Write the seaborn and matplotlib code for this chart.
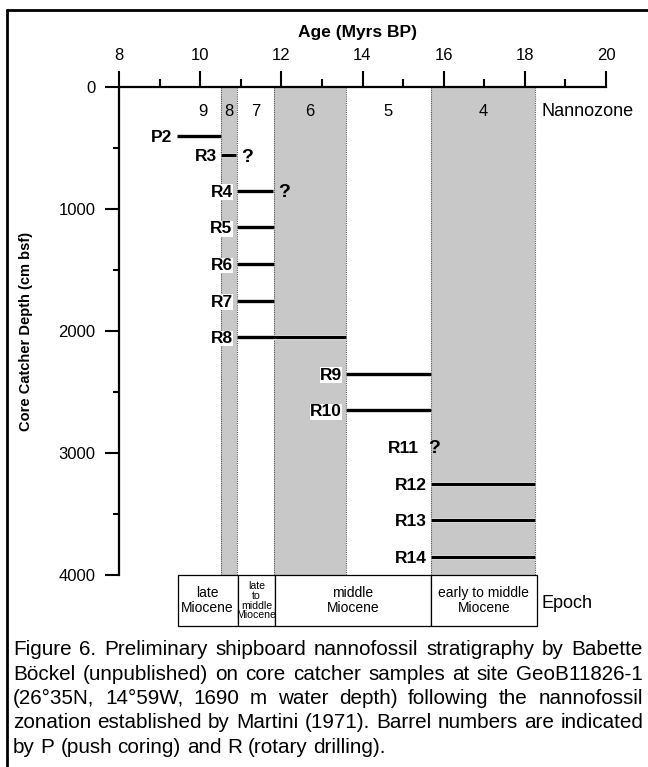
import matplotlib
matplotlib.use("Agg")
import matplotlib.pyplot as plt
import matplotlib.patheffects as pe
from matplotlib.ticker import MultipleLocator
import pandas as pd
import seaborn as sns

# nannozones (Martini 1971), age in Myr BP
zone_names = ["9", "8", "7", "6", "5", "4"]
zone_left = [9.6, 10.52, 10.9, 11.82, 13.6, 15.68]
zone_right = [10.52, 10.9, 11.82, 13.6, 15.68, 18.25]
zone_shaded = [False, True, False, True, False, True]

# core catcher samples
sample_names = ["P2", "R3", "R4", "R5", "R6", "R7", "R8",
                "R9", "R10", "R11", "R12", "R13", "R14"]
sample_depth = [400, 560, 850, 1150, 1450, 1750, 2050,
                2350, 2650, 2950, 3250, 3550, 3850]
sample_young = [9.42, 10.52, 10.9, 10.9, 10.9, 10.9, 10.9,
                13.6, 13.6, 15.5, 15.68, 15.68, 15.68]
sample_old = [10.52, 10.88, 11.8, 11.82, 11.82, 11.82, 13.6,
              15.68, 15.68, 15.5, 18.25, 18.25, 18.25]
sample_query = [False, True, True, False, False, False, False,
                False, False, True, False, False, False]

# epochs
epoch_names = ["late\nMiocene", "late\nto\nmiddle\nMiocene",
               "middle\nMiocene", "early to middle\nMiocene"]
epoch_left = [9.45, 10.92, 11.85, 15.68]
epoch_right = [10.92, 11.85, 15.68, 18.3]
epoch_fontsize = [10, 7.6, 10, 10]

caption = [
    "Figure 6. Preliminary shipboard nannofossil stratigraphy by Babette",
    "Böckel (unpublished) on core catcher samples at site GeoB11826-1",
    "(26°35N, 14°59W, 1690 m water depth) following the nannofossil",
    "zonation established by Martini (1971). Barrel numbers are indicated",
    "by P (push coring) and R (rotary drilling).",
]

sns.set_theme(style="ticks", rc={"axes.edgecolor": "black", "xtick.color": "black",
                                 "ytick.color": "black", "text.color": "black",
                                 "axes.labelcolor": "black"})
plt.rcParams["font.family"] = ["Liberation Sans", "DejaVu Sans"]

W, H = 648, 767
fig = plt.figure(figsize=(W / 100, H / 100), dpi=100)
fig.patch.set_facecolor("white")
ax = fig.add_axes([119 / W, 1 - 630 / H, 487 / W, 543 / H])
ax.set_facecolor("white")

# shaded zones
for l, r, s in zip(zone_left, zone_right, zone_shaded):
    if s:
        ax.fill_betweenx([0, 4000], l, r, color="#c8c8c8", lw=0, zorder=0)
        ax.vlines([l, r], 0, 4000, colors="#555555", linestyles=(0, (1, 1)), lw=0.8, zorder=0.5)

for name, l, r in zip(zone_names, zone_left, zone_right):
    ax.text((l + r) / 2, 200, name, ha="center", va="center", fontsize=12)
ax.text(18.42, 200, "Nannozone", ha="left", va="center", fontsize=13)

# sample age ranges
df = pd.DataFrame({"sample": sample_names, "depth": sample_depth,
                   "young": sample_young, "old": sample_old, "query": sample_query})
seg = df[df.old > df.young].melt(id_vars=["sample", "depth"], value_vars=["young", "old"],
                                 value_name="age")
sns.lineplot(data=seg, x="age", y="depth", units="sample", estimator=None, sort=False,
             color="black", lw=2.4, ax=ax, legend=False, solid_capstyle="butt",
             path_effects=[pe.Stroke(linewidth=3.6, foreground="white"), pe.Normal()])

for _, row in df.iterrows():
    ax.annotate(row["sample"], (row["young"], row["depth"]), xytext=(-3, 0),
                textcoords="offset points", ha="right", va="center_baseline",
                fontsize=12.5, fontweight="bold",
                bbox=dict(fc="white", ec="none", pad=0.3))
    if row["query"]:
        ax.annotate("?", (row["old"], row["depth"]), xytext=(3.5, 0),
                    textcoords="offset points", ha="left", va="center_baseline",
                    fontsize=14, fontweight="bold")

# epoch boxes
for name, l, r, fs in zip(epoch_names, epoch_left, epoch_right, epoch_fontsize):
    ax.add_patch(plt.Rectangle((l, 4000), r - l, 420, fc="white", ec="black", lw=0.9,
                               zorder=2, clip_on=False))
    ax.text((l + r) / 2, 4210, name, ha="center", va="center", fontsize=fs,
            linespacing=0.95 if fs < 9 else 1.1, zorder=3)
ax.text(18.42, 4230, "Epoch", ha="left", va="center", fontsize=13)

# axes
ax.set_xlim(8, 20)
ax.set_ylim(4450, 0)
ax.xaxis.tick_top()
ax.xaxis.set_label_position("top")
ax.set_xticks(range(8, 21, 2))
ax.xaxis.set_minor_locator(MultipleLocator(1))
ax.set_yticks(range(0, 4001, 1000))
ax.set_yticks(range(500, 4000, 1000), minor=True)
ax.tick_params(axis="x", which="major", direction="out", length=11.5, width=1.5,
               labelsize=12, pad=6, top=True, bottom=False)
ax.tick_params(axis="x", which="minor", direction="out", length=5.8, width=1.5,
               top=True, bottom=False)
ax.tick_params(axis="y", which="major", direction="out", length=10, width=1.5,
               labelsize=12, pad=7)
ax.tick_params(axis="y", which="minor", direction="out", length=4.5, width=1.5)
for side in ["bottom", "right"]:
    ax.spines[side].set_visible(False)
ax.spines["left"].set_bounds(0, 4000)
ax.spines["top"].set_bounds(8, 20)
ax.spines["left"].set_linewidth(1.6)
ax.spines["top"].set_linewidth(1.6)
ax.grid(False)

ax.set_xlabel("Age (Myrs BP)", fontsize=12.5, fontweight="bold")
ax.xaxis.set_label_coords(0.49, 1.092)
ax.set_ylabel("Core Catcher Depth (cm bsf)", fontsize=10.5, fontweight="bold")
ax.yaxis.set_label_coords(-0.177, 0.55)

# page frame
fig.add_artist(plt.Line2D([7 / W, 7 / W], [0, 1 - 10 / H], transform=fig.transFigure,
                          color="black", lw=2))
fig.add_artist(plt.Line2D([7 / W, 1], [1 - 10 / H, 1 - 10 / H], transform=fig.transFigure,
                          color="black", lw=2))

# justified caption
renderer = fig.canvas.get_renderer()
left_px, right_px = 13, 643


def text_width(s, size):
    t = fig.text(0, 0, s, fontsize=size)
    w = t.get_window_extent(renderer).width
    t.remove()
    return w


# pick the size at which the widest justified line just fits
cap_size = 13 * min((right_px - left_px) / text_width(line, 13) for line in caption[:-1]) * 0.99
space = text_width("a a", cap_size) - 2 * text_width("a", cap_size)
for i, line in enumerate(caption):
    words = line.split()
    widths = [text_width(w, cap_size) for w in words]
    y_px = 655 + i * 24.5
    if i < len(caption) - 1:
        gap = (right_px - left_px - sum(widths)) / (len(words) - 1)
    else:
        gap = space
    x = left_px
    for w, wd in zip(words, widths):
        fig.text(x / W, 1 - y_px / H, w, fontsize=cap_size, va="baseline")
        x += wd + gap

fig.savefig("out.png", dpi=100)
